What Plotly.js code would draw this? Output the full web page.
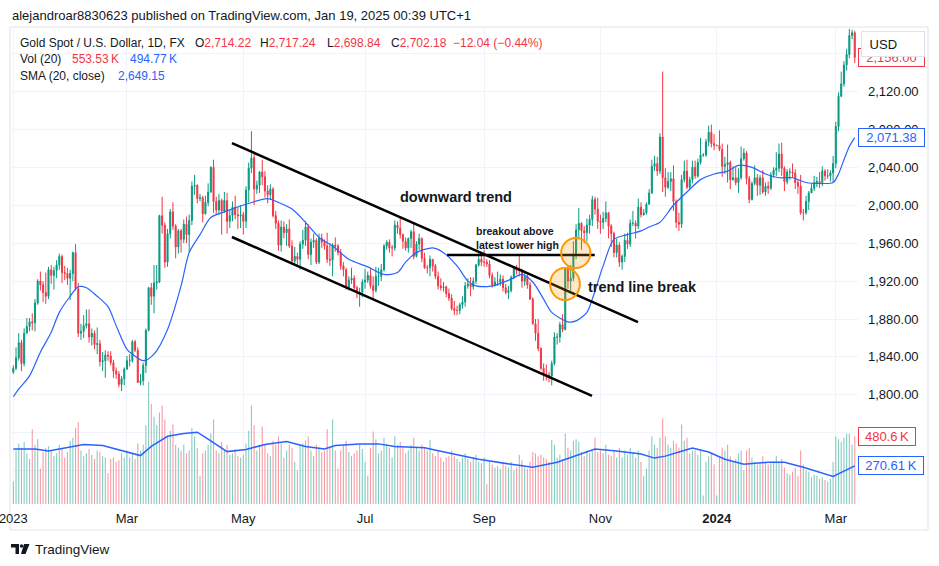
<!DOCTYPE html>
<html><head><meta charset="utf-8">
<script src="https://cdn.plot.ly/plotly-3.0.1.min.js"></script>
<style>html,body{margin:0;padding:0;background:#fff;}#chart{width:939px;height:566px;}</style>
</head><body><div id="chart"></div><script>
// ---------- DATA (XAUUSD daily, Jan 2 2023 – Mar 12 2024) ----------
const open = [
1824,1828,1839,1855,1833,1865,1872,1877,1876,1897,
1920,1916,1908,1904,1932,1926,1931,1937,1946,1929,
1928,1923,1928,1950,1912,1865,1867,1873,1875,1861,
1865,1853,1854,1835,1836,1842,1841,1834,1825,1822,
1811,1817,1827,1836,1836,1856,1847,1813,1815,1831,
1868,1913,1904,1918,1919,1989,1979,1940,1970,1993,
1978,1956,1973,1964,1980,1969,1984,2020,2021,2007,
2008,1991,2003,2014,2040,2004,1995,2005,1994,2005,
1983,1989,1998,1990,1989,1990,1983,2016,2039,2050,
2017,2021,2035,2030,2015,2011,2017,1989,1981,1958,
1977,1971,1975,1957,1941,1946,1943,1959,1963,1977,
1948,1961,1963,1940,1965,1961,1957,1943,1942,1958,
1957,1950,1936,1932,1913,1921,1923,1913,1907,1908,
1919,1921,1926,1915,1910,1925,1925,1932,1957,1961,
1955,1955,1979,1976,1969,1962,1955,1965,1972,1946,
1959,1965,1944,1934,1934,1943,1936,1925,1915,1913,
1914,1907,1902,1891,1889,1889,1895,1898,1915,1917,
1914,1920,1937,1943,1940,1940,1938,1926,1916,1919,
1919,1922,1913,1908,1910,1924,1934,1931,1931,1920,
1925,1916,1901,1875,1865,1849,1828,1822,1821,1820,
1833,1861,1861,1874,1869,1933,1920,1923,1947,1974,
1981,1973,1971,1979,1985,2006,1996,1983,1982,1986,
1992,1978,1970,1950,1958,1940,1946,1963,1959,1981,
1981,1978,1998,1990,1992,2001,2013,2041,2044,2036,
2072,2029,2019,2025,2028,2004,1982,1980,2027,2036,
2019,2027,2040,2031,2045,2053,2053,2067,2077,2065,
2063,2063,2059,2041,2043,2045,2027,2029,2024,2029,
2049,2055,2028,2006,2023,2029,2021,2029,2014,2020,
2018,2032,2037,2039,2054,2039,2025,2035,2035,2034,
2024,2020,1992,1992,2004,2013,2018,2024,2025,2024,
2036,2031,2031,2034,2044,2083,2115,2128,2148,2159,
2179,2182];
const high = [
1831,1850,1865,1858,1870,1881,1881,1886,1901,1922,
1930,1920,1929,1935,1937,1935,1942,1949,1948,1936,
1934,1932,1951,1959,1918,1875,1884,1890,1890,1870,
1868,1871,1858,1845,1847,1846,1846,1837,1829,1825,
1820,1829,1841,1843,1858,1858,1850,1822,1834,1870,
1914,1918,1937,1937,1990,2009,1982,1975,1996,2003,
1980,1975,1975,1985,1988,1990,2025,2032,2022,2012,
2010,2010,2023,2041,2048,2009,2012,2007,2014,2013,
1995,2004,2010,1998,2000,1993,2020,2045,2078,2056,
2026,2036,2048,2036,2021,2022,2019,1994,1984,1984,
1983,1980,1985,1963,1956,1950,1962,1974,1983,1980,
1965,1970,1965,1970,1970,1964,1971,1960,1960,1966,
1959,1954,1940,1934,1925,1934,1926,1915,1913,1922,
1933,1930,1933,1925,1935,1934,1938,1959,1963,1964,
1958,1984,1983,1987,1970,1966,1966,1974,1982,1962,
1970,1966,1950,1937,1947,1943,1938,1930,1923,1919,
1915,1912,1906,1899,1894,1897,1904,1919,1923,1924,
1924,1938,1949,1947,1953,1943,1942,1929,1924,1930,
1927,1926,1917,1915,1926,1935,1937,1947,1933,1930,
1927,1919,1903,1880,1880,1850,1833,1832,1824,1836,
1866,1865,1877,1885,1933,1937,1937,1962,1980,1997,
1982,1978,1986,1990,2010,2009,2008,1990,1993,2004,
1993,1980,1972,1965,1961,1948,1970,1971,1985,1994,
1984,2007,2003,1996,2003,2017,2048,2052,2051,2076,
2141,2039,2035,2035,2042,2006,1992,2032,2047,2048,
2030,2047,2047,2049,2071,2055,2070,2084,2085,2075,
2064,2079,2065,2051,2064,2047,2041,2040,2039,2062,
2060,2057,2031,2025,2042,2033,2032,2037,2024,2025,
2035,2040,2056,2065,2066,2041,2038,2039,2044,2038,
2027,2032,1996,2010,2015,2023,2031,2030,2035,2041,
2038,2038,2037,2052,2088,2119,2141,2152,2165,2186,
2185,2184];
const low = [
1822,1826,1836,1825,1830,1865,1867,1868,1867,1895,
1910,1898,1896,1901,1917,1911,1923,1932,1918,1921,
1916,1900,1920,1910,1861,1858,1860,1870,1855,1852,
1848,1843,1830,1825,1818,1836,1831,1818,1817,1808,
1804,1810,1827,1830,1834,1845,1813,1810,1810,1823,
1867,1895,1886,1911,1918,1970,1934,1935,1965,1974,
1944,1949,1950,1960,1960,1950,1979,2011,2002,2004,
1982,1990,1999,2013,1992,1990,1990,1969,1992,1970,
1976,1983,1985,1975,1976,1969,1976,2003,2034,2000,
2012,2013,2021,2008,2002,2006,1987,1975,1952,1951,
1965,1957,1955,1937,1938,1937,1932,1954,1957,1943,
1937,1955,1938,1938,1955,1953,1939,1936,1925,1951,
1947,1932,1925,1911,1910,1917,1911,1902,1893,1903,
1912,1918,1912,1902,1908,1915,1920,1930,1953,1950,
1946,1952,1970,1965,1954,1952,1950,1955,1943,1945,
1953,1940,1933,1928,1925,1930,1922,1911,1910,1909,
1903,1899,1889,1884,1884,1885,1891,1893,1912,1904,
1911,1917,1935,1936,1935,1935,1923,1913,1914,1915,
1915,1909,1906,1901,1908,1922,1927,1925,1913,1915,
1912,1900,1874,1857,1846,1826,1815,1815,1813,1810,
1831,1853,1855,1866,1868,1912,1910,1920,1943,1965,
1953,1960,1962,1970,1978,1990,1975,1970,1975,1982,
1965,1956,1945,1945,1935,1932,1940,1954,1956,1978,
1965,1975,1987,1989,1990,2001,2012,2036,2031,2033,
2014,2009,2017,2015,1994,1976,1973,1976,2024,2017,
2016,2023,2028,2029,2043,2051,2051,2062,2061,2058,
2062,2057,2030,2033,2024,2017,2026,2021,2013,2027,
2047,2022,2002,2005,2021,2010,2011,2012,2010,2012,
2016,2029,2031,2035,2031,2015,2022,2027,2029,2017,
2012,1990,1984,1990,1995,2013,2015,2019,2018,2020,
2026,2028,2025,2024,2039,2078,2114,2125,2142,2155,
2175,2150];
const close = [
1828,1839,1855,1833,1865,1872,1877,1876,1897,1920,
1916,1908,1904,1932,1926,1931,1937,1946,1929,1928,
1923,1928,1950,1912,1865,1867,1873,1875,1861,1865,
1853,1854,1835,1836,1842,1841,1834,1825,1822,1811,
1817,1827,1836,1836,1856,1847,1813,1815,1831,1868,
1913,1904,1918,1919,1989,1979,1940,1970,1993,1978,
1956,1973,1964,1980,1969,1984,2020,2021,2007,2008,
1991,2003,2014,2040,2004,1995,2005,1994,2005,1983,
1989,1998,1990,1989,1990,1983,2016,2039,2050,2017,
2021,2035,2030,2015,2011,2017,1989,1981,1958,1977,
1971,1975,1957,1941,1946,1943,1959,1963,1977,1948,
1961,1963,1940,1965,1961,1957,1943,1942,1958,1957,
1950,1936,1932,1913,1921,1923,1913,1907,1908,1919,
1921,1926,1915,1910,1925,1925,1932,1957,1961,1955,
1955,1979,1976,1969,1962,1955,1965,1972,1946,1959,
1965,1944,1934,1934,1943,1936,1925,1915,1913,1914,
1907,1902,1891,1889,1889,1895,1898,1915,1917,1914,
1920,1937,1943,1940,1940,1938,1926,1916,1919,1919,
1922,1913,1908,1910,1924,1934,1931,1931,1920,1925,
1916,1901,1875,1865,1849,1828,1822,1821,1820,1833,
1861,1861,1874,1869,1933,1920,1923,1947,1974,1981,
1973,1971,1979,1985,2006,1996,1983,1982,1986,1992,
1978,1970,1950,1958,1940,1946,1963,1959,1981,1981,
1978,1998,1990,1992,2001,2013,2041,2044,2036,2072,
2029,2019,2025,2028,2004,1982,1980,2027,2036,2019,
2027,2040,2031,2045,2053,2053,2067,2077,2065,2063,
2063,2059,2041,2043,2045,2027,2029,2024,2029,2049,
2055,2028,2006,2023,2029,2021,2029,2014,2020,2018,
2032,2037,2039,2054,2039,2025,2035,2035,2034,2024,
2020,1992,1992,2004,2013,2018,2024,2025,2024,2036,
2031,2031,2034,2044,2083,2115,2128,2148,2159,2179,
2182,2156];
// volume in thousands, month by month
const volume = [].concat(
[160,380,430,400,440,360,320,530,420,460,250,370,400,410,380,340,360,420,390,330,370,450],
[470,540,580,380,340,360,390,350,320,380,370,340,330,220,320,330,300,310,360,330],
[380,330,360,320,430,380,420,560,870,710,620,560,650,700,600,480,520,565,420,400,380,420,360],
[380,540,480,400,200,360,380,420,500,600,380,360,440,380,420,350,360,390,340,330],
[350,430,520,700,560,380,420,550,420,360,340,450,420,480,430,330,380,420,400,300,240,420,430],
[450,480,380,340,420,400,370,380,530,400,600,380,250,380,420,450,370,340,360,380,420,390],
[300,200,400,515,460,360,380,470,430,400,330,480,420,440,400,360,380,420,470,400,380],
[420,400,380,456,360,340,380,330,300,330,340,380,340,320,300,330,360,320,300,330,350,300,290],
[330,140,300,280,260,270,250,290,270,260,300,240,260,350,310,260,250,300,370,360,340],
[350,330,320,300,456,420,330,350,320,500,400,380,450,460,440,370,340,380,360,380,470,370],
[380,360,420,350,340,380,330,400,330,380,350,400,360,330,380,300,200,250,380,480,420,400],
[470,608,480,420,400,450,430,400,565,450,470,360,380,380,350,380,60,300,340,360,280],
[60,330,400,380,420,340,300,320,360,380,240,380,400,330,300,280,300,340,300,280,290,300,340],
[300,320,260,220,210,230,260,200,380,280,240,230,190,210,200,180,190,170,160,180,300],
[480,460,440,470,500,500,420,480.6]
);
// SMA(20, close): bar index -> value
const smaIdx = [0,2,6,10,14,17,21,24,27,31,35,38,42,44,48,52,57,62,65,69,73,79,86,94,98,103,108,113,118,124,131,137,142,145,149,155,159,164,168,171,177,184,188,192,196,199,205,208,212,214,218,222,227,232,235,239,244,249,254,259,264,268,273,278,283,288,293,298,303,305,307,309,311];
const smaVal = [1798,1806,1820,1845,1866,1887,1904,1914,1913,1904,1893,1873,1848,1843,1836,1843,1869,1915,1950,1969,1987,1994,2001,2007,2003,1996,1982,1966,1957,1943,1935,1927,1929,1940,1950,1955,1950,1936,1920,1915,1915,1922,1927,1919,1901,1887,1877,1878,1887,1901,1936,1964,1969,1973,1977,1982,2000,2014,2027,2033,2036,2042,2040,2033,2029,2029,2024,2023,2024,2033,2048,2062,2071.38];
// Volume SMA(20) (thousands)
const vsmaIdx = [0,8,13,20,26,33,39,47,51,57,63,68,72,79,86,93,101,108,115,119,128,135,141,152,161,172,184,192,201,210,215,223,232,237,241,246,251,257,263,270,279,285,292,303,311];
const vsmaVal = [391,391,376,400,423,416,387,344,409,481,500,510,460,372,387,423,444,409,391,416,427,427,409,400,362,318,282,261,297,355,391,376,355,326,340,369,398,369,318,282,297,297,261,196,270.61];
// Axis ticks
const tickDates = ['2023-01-02','2023-03-01','2023-05-01','2023-07-03','2023-09-01','2023-11-01','2024-01-01','2024-03-01'];
const tickText = ['2023','Mar','May','Jul','Sep','Nov','<b>2024</b>','Mar'];
const priceTicks = [1720,1760,1800,1840,1880,1920,1960,2000,2040,2080,2120,2160];
const priceTicksHidden = [1720,1760,2160]; // covered by the scale labels in the picture

// ---------- trading-day calendar ----------
const dates = [];
{ const d = new Date(Date.UTC(2023,0,2));
  while (dates.length < close.length) {
    const wd = d.getUTCDay();
    if (wd !== 0 && wd !== 6) dates.push(d.toISOString().slice(0,10));
    d.setUTCDate(d.getUTCDate()+1);
  } }
const xs = dates.map((_, i) => i);

const G = '#089981', RD = '#F23645', BL = '#2962FF', TXT = '#131722';
const volColors = close.map((c, i) => c >= open[i] ? 'rgba(8,153,129,0.5)' : 'rgba(242,54,69,0.5)');
const fmt = v => v.toLocaleString('en-US',{minimumFractionDigits:2, maximumFractionDigits:2});

const traces = [
  { type:'bar', x: xs, y: volume.map(v => v*1000), yaxis:'y2', width:0.4,
    marker:{color: volColors, line:{width:0}}, hoverinfo:'skip' },
  { type:'scatter', mode:'lines', x: vsmaIdx, y: vsmaVal.map(v => v*1000), yaxis:'y2',
    line:{color:BL, width:1.5}, hoverinfo:'skip' },
  { type:'candlestick', x: xs, open, high, low, close, whiskerwidth:0,
    increasing:{line:{color:G, width:1}, fillcolor:G},
    decreasing:{line:{color:RD, width:1}, fillcolor:RD}, hoverinfo:'skip' },
  { type:'scatter', mode:'lines', x: smaIdx, y: smaVal,
    line:{color:BL, width:1.2, shape:'spline', smoothing:0.8}, hoverinfo:'skip' }
];

// ---------- layout helpers (pixel -> paper for page furniture) ----------
const W=939, H=566, ML=9, MR=81, MT=27, MB=61;
const pw = W-ML-MR, ph = H-MT-MB;
const px = x => (x-ML)/pw, py = y => (H-MB-y)/ph;
const FONT = 'Liberation Sans, Arial, sans-serif';
function txt(x, y, text, size, extra) {
  return Object.assign({xref:'paper', yref:'paper', x:px(x), y:py(y), xanchor:'left', yanchor:'middle',
    showarrow:false, text, font:{family:FONT, size:size||12, color:TXT}}, extra||{});
}
function pathP(pts) { return 'M' + pts.map(p => px(p[0]).toFixed(5)+','+py(p[1]).toFixed(5)).join(' L') + ' Z'; }
const red = s => '<span style="color:'+RD+'">'+s+'</span>';
const blue = s => '<span style="color:'+BL+'">'+s+'</span>';

const lastClose = close[close.length-1];

const annotations = [
  txt(10, 15, 'alejandroar8830623 published on TradingView.com, Jan 19, 2025 00:39 UTC+1', 13),
  txt(18, 43, 'Gold Spot / U.S. Dollar, 1D, FX'),
  txt(193, 43, 'O'+red('2,714.22')),
  txt(258, 43, 'H'+red('2,717.24')),
  txt(325, 43, 'L'+red('2,698.84')),
  txt(389, 43, 'C'+red('2,702.18')),
  txt(451, 43, red('\u221212.04 (\u22120.44%)')),
  txt(18, 59, 'Vol (20)'),
  txt(70, 59, red('553.53\u2009K')),
  txt(128, 59, blue('494.77\u2009K')),
  txt(18, 76, 'SMA (20, close)'),
  txt(116, 76, blue('2,649.15')),
  // chart drawings
  {xref:'x', yref:'y', x:163.6, y:2008.7, text:'<b>downward trend</b>', showarrow:false,
   font:{family:FONT, size:14.5, color:'#131722'}},
  {xref:'x', yref:'y', x:170.3, y:1965.6, xanchor:'left', yanchor:'middle', align:'left',
   text:'<b>breakout above</b><br><b>latest lower high</b>', showarrow:false,
   font:{family:FONT, size:10.5, color:'#131722'}},
  {xref:'x', yref:'y', x:232.7, y:1913.7, text:'<b>trend line break</b>', showarrow:false,
   font:{family:FONT, size:14.5, color:'#131722'}},
  // price-scale labels
  {xref:'paper', x:1, xanchor:'left', yref:'y', y:lastClose, yanchor:'middle', text:fmt(lastClose), showarrow:false,
   font:{family:FONT, size:13, color:RD}, bgcolor:'#fff', bordercolor:RD, borderwidth:1, borderpad:1, width:63, height:15},
  {xref:'paper', x:1, xanchor:'left', yref:'y', y:smaVal[smaVal.length-1], yanchor:'middle', text:fmt(smaVal[smaVal.length-1]), showarrow:false,
   font:{family:FONT, size:13, color:BL}, bgcolor:'#fff', bordercolor:BL, borderwidth:1, borderpad:1, width:63, height:15},
  {xref:'paper', x:1, xanchor:'left', yref:'y2', y:volume[volume.length-1]*1000, yanchor:'middle', text:volume[volume.length-1]+'\u2009K', showarrow:false,
   font:{family:FONT, size:13, color:RD}, bgcolor:'#fff', bordercolor:RD, borderwidth:1, borderpad:1, width:54, height:15},
  {xref:'paper', x:1, xanchor:'left', yref:'y2', y:vsmaVal[vsmaVal.length-1]*1000, yanchor:'middle', text:vsmaVal[vsmaVal.length-1]+'\u2009K', showarrow:false,
   font:{family:FONT, size:13, color:BL}, bgcolor:'#fff', bordercolor:BL, borderwidth:1, borderpad:1, width:62, height:15},
  {xref:'paper', yref:'paper', x:px(861), y:py(31), xanchor:'left', yanchor:'top', text:'\u00A0USD', showarrow:false, align:'left',
   font:{family:FONT, size:13, color:TXT}, bgcolor:'#fff', bordercolor:'#E0E3EB', borderwidth:1, borderpad:4, width:54, height:16},
  txt(33, 549, 'TradingView', 13.5)
];

const shapes = [
  {type:'rect', xref:'paper', yref:'paper', x0:px(10), x1:px(928), y0:py(530), y1:py(27),
   line:{color:'#E0E3EB', width:1}, fillcolor:'rgba(0,0,0,0)', layer:'below'},
  {type:'line', xref:'x', yref:'y', x0:80.8, y0:2065.6, x1:230.9, y1:1876.8, line:{color:'#000', width:2.5}},
  {type:'line', xref:'x', yref:'y', x0:80.8, y0:1966.5, x1:213.9, y1:1798.8, line:{color:'#000', width:2.5}},
  {type:'line', xref:'x', yref:'y', x0:160.3, y0:1947.5, x1:214.9, y1:1947.5, line:{color:'#000', width:2.5}},
  {type:'circle', xref:'x', yref:'y', x0:202.5, x1:213.3, y0:1933.8, y1:1965.4,
   line:{color:'#FF9800', width:2}, fillcolor:'rgba(255,152,0,0.22)'},
  {type:'circle', xref:'x', yref:'y', x0:198.4, x1:209.4, y0:1900.0, y1:1933.8,
   line:{color:'#FF9800', width:2}, fillcolor:'rgba(255,152,0,0.22)'},
  // TradingView logo glyph
  {type:'path', xref:'paper', yref:'paper', path:pathP([[11,544],[19,544],[19,554],[15.5,554],[15.5,547.5],[11,547.5]]),
   fillcolor:'#131722', line:{width:0}},
  {type:'circle', xref:'paper', yref:'paper', x0:px(19.8), x1:px(23.2), y0:py(547.7), y1:py(544.3),
   fillcolor:'#131722', line:{width:0}},
  {type:'path', xref:'paper', yref:'paper', path:pathP([[24,544],[29.5,544],[25.5,554],[21,554]]),
   fillcolor:'#131722', line:{width:0}}
];

const layout = {
  width:W, height:H, margin:{l:ML, r:MR, t:MT, b:MB, pad:0},
  paper_bgcolor:'#fff', plot_bgcolor:'#fff', showlegend:false, hovermode:false,
  font:{family:FONT, size:13, color:TXT},
  boxgap:0.45,
  xaxis:{type:'linear', range:[-1.6, 312.2], tickvals: tickDates.map(d => dates.indexOf(d)), ticktext: tickText,
    showgrid:true, gridcolor:'#F0F3FA', gridwidth:1, zeroline:false, showline:false, ticks:'',
    tickfont:{family:FONT, size:13, color:TXT}, ticklabelstandoff:4, ticklabeloverflow:'allow',
    rangeslider:{visible:false}, fixedrange:true},
  yaxis:{side:'right', range:[1683.8, 2188], tickmode:'array', tickvals: priceTicks,
    ticktext: priceTicks.map(v => priceTicksHidden.includes(v) ? '' : fmt(v)),
    showgrid:true, gridcolor:'#F0F3FA', gridwidth:1, zeroline:false, showline:false, ticks:'',
    tickfont:{family:FONT, size:13, color:TXT}, ticklabelstandoff:9, fixedrange:true},
  yaxis2:{overlaying:'y', range:[-7000, 3387000], visible:false, fixedrange:true},
  shapes, annotations
};

Plotly.newPlot('chart', traces, layout, {staticPlot:true, displayModeBar:false});
</script></body></html>
